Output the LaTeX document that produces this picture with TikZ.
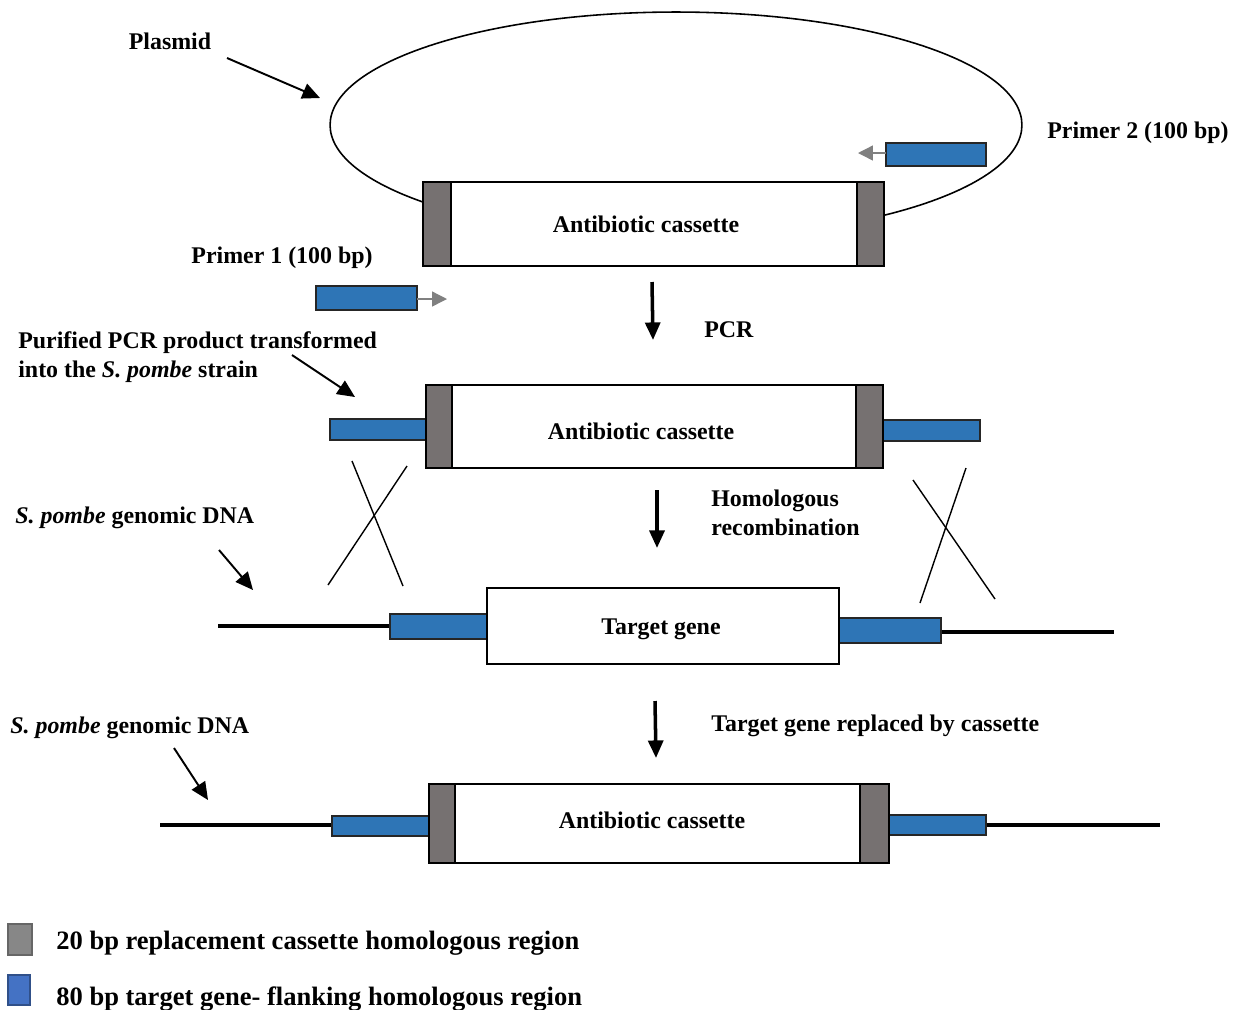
\documentclass[tikz,border=0pt]{standalone}
\usepackage{fontspec}
\setmainfont{Liberation Serif}
\usetikzlibrary{arrows.meta}
\definecolor{capgray}{RGB}{118,113,113}
\definecolor{flankblue}{RGB}{46,117,182}
\definecolor{keygray}{RGB}{135,135,135}
\definecolor{keyblue}{RGB}{68,114,196}
\tikzset{
  lbl/.style={font=\fontsize{13.6}{16.5}\selectfont\bfseries, inner sep=0pt, yshift=-0.055cm},
  keylbl/.style={font=\fontsize{15.1}{18}\selectfont\bfseries, inner sep=0pt, anchor=west, yshift=-0.055cm},
  ptr/.style={-{Triangle[length=10pt,width=9pt]}, line width=1.1pt},
  steparrow/.style={-{Triangle[length=10pt,width=8.5pt]}, line width=2pt},
  primer/.style={draw=gray, line width=0.8pt, -{Triangle[length=8.5pt,width=8.5pt]}},
  box/.style={draw=black, line width=1pt, fill=white},
  caps/.style={draw=black, line width=1.1pt, fill=capgray},
  flank/.style={draw=black!85, line width=1pt, fill=flankblue},
  dna/.style={line width=1.8pt},
  xover/.style={line width=0.8pt}
}
\begin{document}
\begin{tikzpicture}[x=0.02cm, y=-0.02cm]
    \useasboundingbox (0,0) rectangle (1238,1009);

    % Plasmid carrying the cassette
    \draw[line width=0.9pt] (676,125) ellipse [x radius=6.92cm, y radius=2.26cm];
    \draw[box] (423,182) rectangle (884,266);
    \draw[caps] (423,182) rectangle (451,266);
    \draw[caps] (857,182) rectangle (884,266);
    \node[lbl] (cas1) at (646,222) {Antibiotic cassette};

    \node[lbl] (plasmid) at (170,39) {Plasmid};
    \coordinate (plasmidtail) at (227,58);
    \coordinate (plasmidtip) at (320,98);
    \draw[ptr] (plasmidtail) -- (plasmidtip);

    % Primers
    \draw[flank] (886,143) rectangle (986,166);
    \coordinate (p2tail) at (886,153);
    \coordinate (p2tip) at (858,153);
    \draw[primer] (p2tail) -- (p2tip);
    \node[lbl, anchor=west] (primer2) at (1047,130) {Primer 2 (100 bp)};

    \node[lbl] (primer1) at (282,255) {Primer 1 (100 bp)};
    \draw[flank] (316,286) rectangle (417,310);
    \coordinate (p1tail) at (417,299);
    \coordinate (p1tip) at (447,299);
    \draw[primer] (p1tail) -- (p1tip);

    % PCR step
    \coordinate (pcrtop) at (652,282);
    \coordinate (pcrbot) at (653,340);
    \draw[steparrow] (pcrtop) -- (pcrbot);
    \node[lbl, anchor=west] (pcr) at (704,327) {PCR};

    % PCR product
    \node[lbl, anchor=west, align=left] (product) at (18,354)
        {Purified PCR product transformed\\into the \textit{S. pombe} strain};
    \coordinate (prodtail) at (292,355);
    \coordinate (prodtip) at (355,397);
    \draw[ptr] (prodtail) -- (prodtip);

    \draw[flank] (330,419) rectangle (426,440);
    \draw[flank] (883,420) rectangle (980,441);
    \draw[box] (426,385) rectangle (883,468);
    \draw[caps] (426,385) rectangle (452,468);
    \draw[caps] (856,385) rectangle (883,468);
    \node[lbl] (cas2) at (641,429) {Antibiotic cassette};

    % Crossovers
    \draw[xover] (352,461) -- (403,586);
    \draw[xover] (407,466) -- (328,585);
    \draw[xover] (913,480) -- (995,599);
    \draw[xover] (966,468) -- (920,603);

    % Homologous recombination step
    \coordinate (hrtop) at (657,490);
    \coordinate (hrbot) at (657,548);
    \draw[steparrow] (hrtop) -- (hrbot);
    \node[lbl, anchor=west, align=left] (hr) at (711,510) {Homologous\\recombination};

    % Genomic locus
    \node[lbl, anchor=west] (genome1) at (15,515) {\textit{S. pombe} genomic DNA};
    \coordinate (g1tail) at (219,550);
    \coordinate (g1tip) at (253,590);
    \draw[ptr] (g1tail) -- (g1tip);

    \draw[dna] (218,626) -- (390,626);
    \draw[dna] (941,632) -- (1114,632);
    \draw[flank] (390,614) rectangle (487,639);
    \draw[flank] (839,618) rectangle (941,643);
    \draw[box] (487,588) rectangle (839,664);
    \node[lbl] (target) at (661,627) {Target gene};

    % Replacement step
    \coordinate (reptop) at (655,701);
    \coordinate (repbot) at (656,758);
    \draw[steparrow] (reptop) -- (repbot);
    \node[lbl, anchor=west] (replaced) at (711,723) {Target gene replaced by cassette};

    % Resulting locus
    \node[lbl, anchor=west] (genome2) at (10,725) {\textit{S. pombe} genomic DNA};
    \coordinate (g2tail) at (174,748);
    \coordinate (g2tip) at (208,800);
    \draw[ptr] (g2tail) -- (g2tip);

    \draw[dna] (160,825) -- (332,825);
    \draw[dna] (986,825) -- (1160,825);
    \draw[flank] (332,816) rectangle (429,836);
    \draw[flank] (889,815) rectangle (986,835);
    \draw[box] (429,784) rectangle (889,863);
    \draw[caps] (429,784) rectangle (455,863);
    \draw[caps] (860,784) rectangle (889,863);
    \node[lbl] (cas3) at (652,818) {Antibiotic cassette};

    % Key
    \draw[draw=gray!80!black, line width=0.6pt, fill=keygray] (8,924) rectangle (32,955);
    \node[keylbl] (key1) at (56,940) {20 bp replacement cassette homologous region};
    \draw[draw=keyblue!70!black, line width=0.6pt, fill=keyblue] (8,975) rectangle (30,1005);
    \node[keylbl] (key2) at (56,996) {80 bp target gene- flanking homologous region};
\end{tikzpicture}
\end{document}
